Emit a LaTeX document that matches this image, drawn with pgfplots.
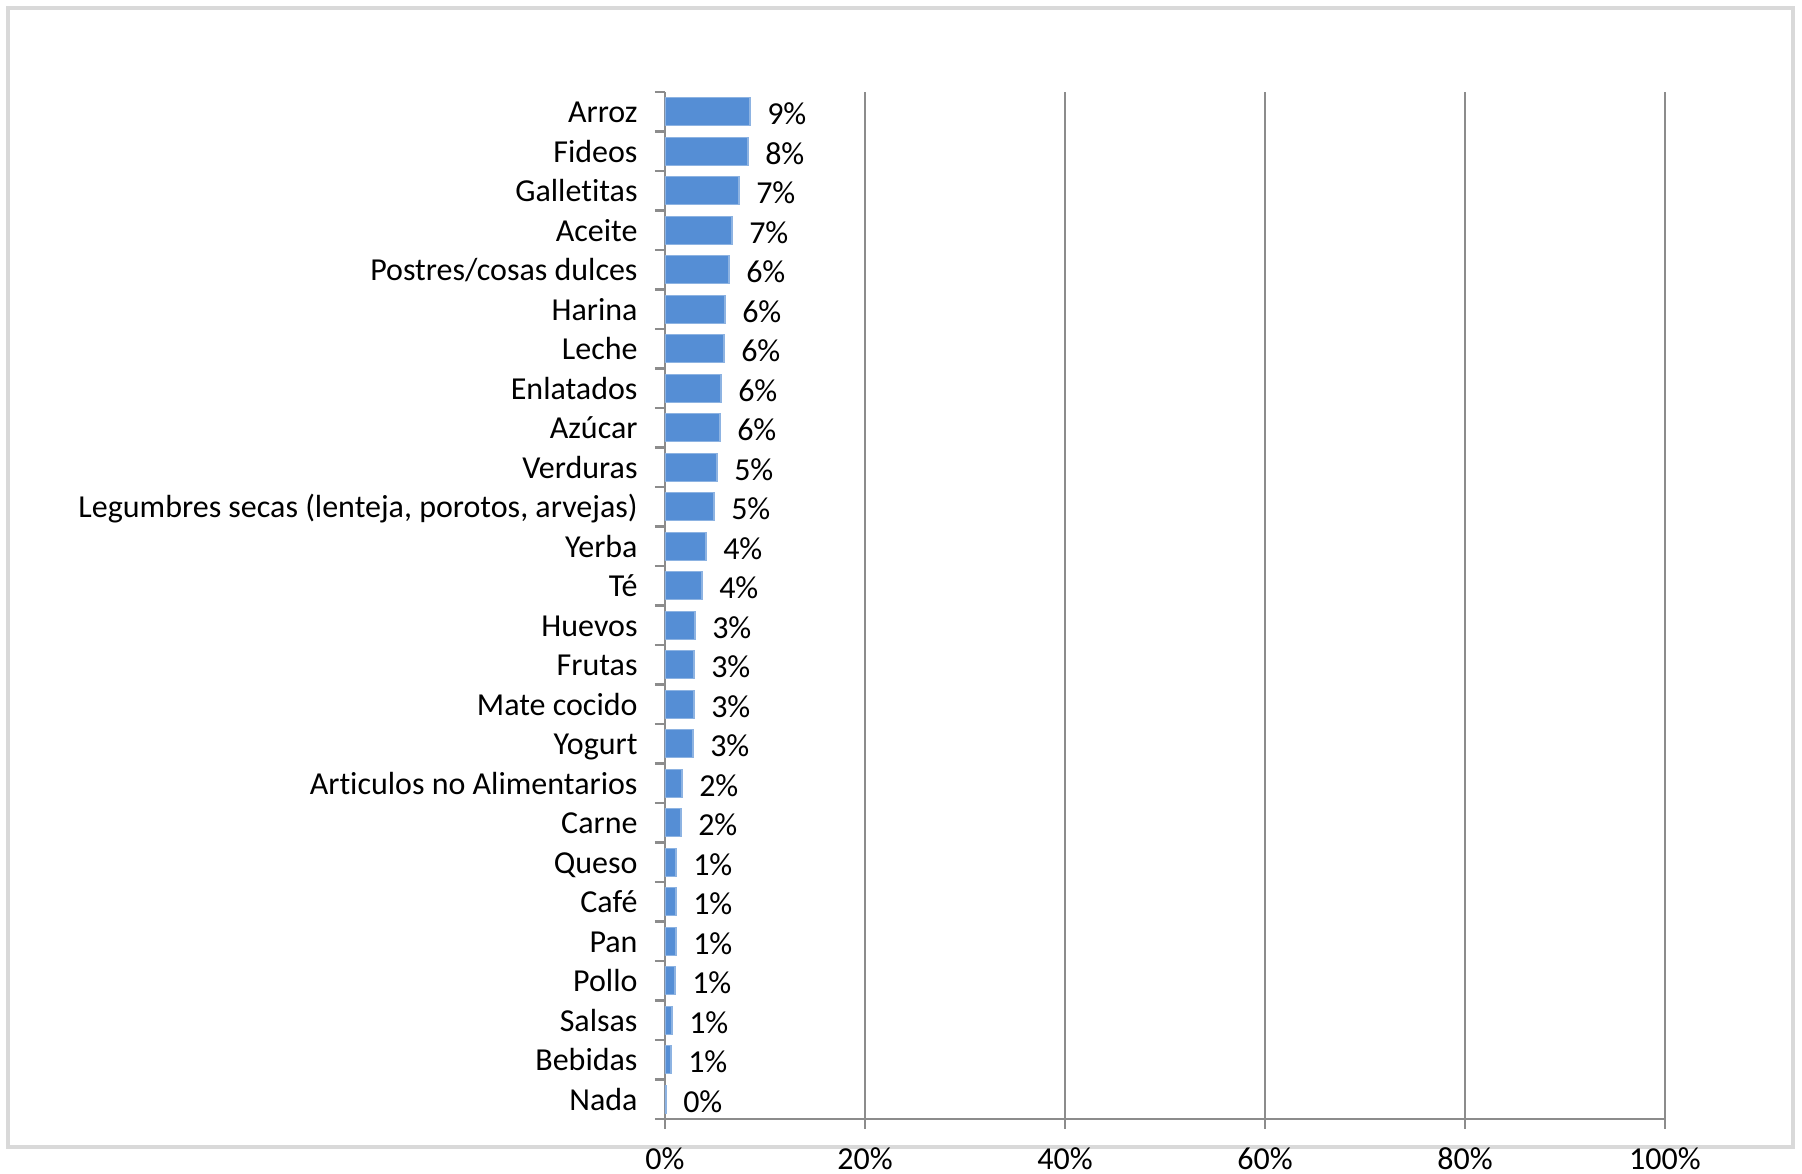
\documentclass[border=0pt]{standalone}
\usepackage{pgfplots}
\pgfplotsset{compat=1.18}
\usepackage{fontspec}
\setmainfont{Carlito}[Ligatures=NoCommon]

\definecolor{barblue}{HTML}{558ED5}
\definecolor{baredge}{HTML}{8DB3E2}
\definecolor{gridgray}{HTML}{8C8C8C}
\definecolor{framegray}{HTML}{D9D9D9}

\begin{document}
\fontsize{8pt}{10pt}\selectfont
\begin{tikzpicture}
\useasboundingbox (0,0) rectangle (450.5pt,293.5pt);
\fill[white] (0,0) rectangle (450.5pt,293.5pt);
\draw[framegray, line width=1.1pt] (2pt,6.75pt) rectangle (448.25pt,291.5pt);
\begin{axis}[
  at={(166.25pt,13.75pt)}, anchor=south west,
  scale only axis, width=250pt, height=256.75pt,
  xbar, bar width=7pt,
  y dir=reverse,
  xmin=0, xmax=100,
  ymin=-0.5, ymax=25.5,
  axis x line*=bottom, axis y line*=left,
  axis line style={gridgray, line width=0.6pt},
  xtick={0,20,40,60,80,100},
  xticklabels={0\%,20\%,40\%,60\%,80\%,100\%},
  xticklabel style={anchor=center, yshift=-7.5pt},
  xmajorgrids, grid style={gridgray, line width=0.6pt},
  tick align=outside, major tick length=2.5pt,
  tick style={gridgray, line width=0.6pt},
  ytick={-0.5,0.5,...,25.5}, yticklabels={},
  extra y ticks={0,1,...,25},
  extra y tick labels={Arroz,Fideos,Galletitas,Aceite,Postres/cosas dulces,Harina,Leche,Enlatados,Azúcar,Verduras,{Legumbres secas (lenteja, porotos, arvejas)},Yerba,Té,Huevos,Frutas,Mate cocido,Yogurt,Articulos no Alimentarios,Carne,Queso,Café,Pan,Pollo,Salsas,Bebidas,Nada},
  extra y tick style={major tick length=0pt, yticklabel style={anchor=east, xshift=-4pt, yshift=-0.6pt, text height=6pt, text depth=1.6pt}},
  tick label style={font=\fontsize{8pt}{10pt}\selectfont},
  nodes near coords, point meta=explicit symbolic,
  nodes near coords style={font=\fontsize{8pt}{10pt}\selectfont, anchor=west, xshift=1.5pt, yshift=-0.5pt},
]
\addplot[fill=barblue, draw=baredge, line width=0.3pt] coordinates {
  (8.5,0) [9\%]
  (8.3,1) [8\%]
  (7.4,2) [7\%]
  (6.7,3) [7\%]
  (6.4,4) [6\%]
  (6.0,5) [6\%]
  (5.9,6) [6\%]
  (5.6,7) [6\%]
  (5.5,8) [6\%]
  (5.2,9) [5\%]
  (4.9,10) [5\%]
  (4.1,11) [4\%]
  (3.7,12) [4\%]
  (3.0,13) [3\%]
  (2.9,14) [3\%]
  (2.9,15) [3\%]
  (2.8,16) [3\%]
  (1.7,17) [2\%]
  (1.6,18) [2\%]
  (1.1,19) [1\%]
  (1.1,20) [1\%]
  (1.1,21) [1\%]
  (1.0,22) [1\%]
  (0.7,23) [1\%]
  (0.6,24) [1\%]
  (0.1,25) [0\%]
};
\end{axis}
\end{tikzpicture}
\end{document}
